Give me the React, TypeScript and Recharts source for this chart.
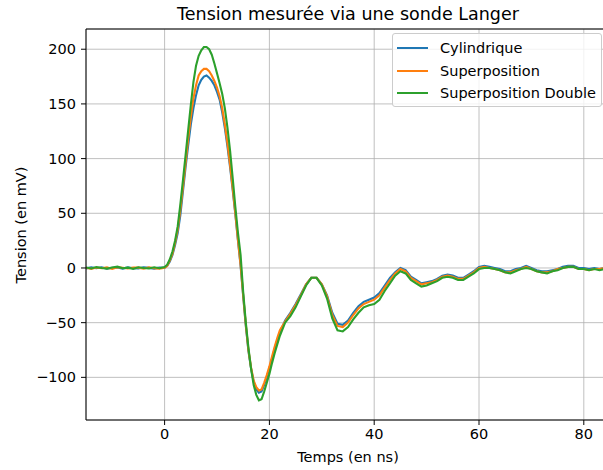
import React from 'react';
import { LineChart, Line, XAxis, YAxis, CartesianGrid, Legend, ReferenceLine } from 'recharts';

const times = [
  -15, -14, -13, -12, -11, -10, -9, -8, -7, -6, -5, -4, -3, -2, -1, 0,
  0.5, 1, 1.5, 2, 2.5, 3, 3.5, 4, 4.5, 5, 5.5, 6, 6.5, 7, 7.5, 8, 8.5, 9, 9.5, 10,
  10.5, 11, 11.5, 12, 12.5, 13, 13.5, 14, 14.5, 15, 15.5, 16, 16.5, 17, 17.5, 18, 18.5, 19, 19.5, 20,
  20.5, 21, 21.5, 22,
  23, 24, 25, 26, 27, 28, 29, 30, 31, 32, 33, 34, 35, 36, 37, 38, 39, 40, 41, 42,
  43, 44, 45, 46, 47, 48, 49, 50, 51, 52, 53, 54, 55, 56, 57, 58, 59, 60, 61, 62,
  63, 64, 65, 66, 67, 68, 69, 70, 71, 72, 73, 74, 75, 76, 77, 78, 79, 80, 81, 82,
  83, 84, 85,
];

const cylindrique = [
  -0.4, 0.5, -0.2, 0.6, -0.7, 0.2, 0.4, -0.6, 0.5, -0.2, -0.5, 0.7, 0.1, -0.6, 0.3, 0.2,
  2, 6, 12, 21, 32, 48, 70, 92, 112, 131, 146, 158, 167, 172, 175, 176, 174, 171, 167, 161,
  154, 142, 128, 111, 92, 71, 49, 25, 2, -26, -53, -76, -92, -104, -111, -114, -113, -107, -100, -92,
  -83, -74, -66, -59,
  -48, -41, -33, -24, -15, -9, -9, -15, -25, -41, -51, -52, -48, -41, -35, -31, -29, -27, -23, -16,
  -9, -4, 0, -2, -8, -11, -14, -13, -12, -10, -7, -6, -7, -9, -9, -6, -3, 1, 2, 1,
  0, -1, -3, -3, -1, 0, 2, 0, -2, -3, -3, -2, -1, 1, 2, 2, 0, 0, -1, 0,
  -1, 0, -1,
];

const superposition = [
  0.2, -0.8, 0.4, -0.3, 0.5, -0.9, 0.6, 0.2, -0.5, 0.4, 0.3, -0.7, 0.6, -0.2, -0.6, 0.1,
  2, 7, 13, 23, 35, 53, 74, 96, 118, 138, 155, 167, 176, 180, 182, 182, 180, 176, 171, 165,
  157, 146, 131, 114, 94, 73, 50, 26, 3, -25, -52, -75, -91, -103, -109, -112, -111, -105, -98, -90,
  -81, -72, -64, -57,
  -49, -42, -34, -25, -15, -9, -9, -15, -26, -43, -53, -54, -50, -43, -37, -33, -31, -29, -25, -18,
  -11, -5, -1, -3, -9, -12, -15, -14, -13, -11, -8, -7, -8, -10, -10, -7, -4, 0, 1, 0,
  -1, -2, -4, -4, -2, -1, 1, -1, -3, -4, -4, -3, -1, 0, 1, 1, -1, -1, -2, -1,
  -1, 0, -1,
];

const superpositionDouble = [
  0.5, -0.5, 0.8, 0, -0.6, 0.4, 1.2, -0.3, 0.3, -0.8, 0.6, 0, -0.4, 0.7, -0.2, 0.8,
  3, 8, 15, 25, 38, 58, 80, 103, 126, 149, 170, 185, 194, 199, 202, 202, 200, 195, 187, 178,
  169, 159, 146, 128, 107, 82, 56, 32, 12, -22, -50, -73, -92, -107, -116, -121, -120, -113, -105, -97,
  -87, -78, -70, -62,
  -50, -44, -36, -26, -16, -9, -9, -16, -28, -46, -57, -58, -54, -47, -41, -36, -34, -33, -29, -21,
  -14, -7, -3, -5, -11, -14, -17, -16, -14, -12, -9, -8, -9, -11, -11, -8, -5, -1, 0, 0,
  -1, -2, -4, -5, -3, -1, 0, -1, -3, -4, -5, -3, -2, 0, 1, 1, -1, -1, -2, -1,
  -2, -1, -2,
];

const seriesNames = ['Cylindrique', 'Superposition', 'Superposition Double'];
const seriesColors = ['#1f77b4', '#ff7f0e', '#2ca02c'];
const xTicks = [0, 20, 40, 60, 80];
const yTicks = [-100, -50, 0, 50, 100, 150, 200];

const data = times.map((t, i) => ({
  t,
  cyl: cylindrique[i],
  sup: superposition[i],
  dbl: superpositionDouble[i],
}));

const FONT = '"DejaVu Sans", sans-serif';
const FS = 14.5;
const fmt = (v: number) => String(v).replace('-', '\u2212');

const renderLegend = (props: any) => {
  const payload = props.payload || [];
  return (
    <div
      style={{
        position: 'absolute',
        left: 392,
        top: 33,
        width: 210,
        height: 74,
        border: '1px solid #cccccc',
        borderRadius: 3,
        background: 'rgba(255,255,255,0.8)',
        boxSizing: 'border-box',
        fontFamily: FONT,
      }}
    >
      {payload.map((p: any, i: number) => (
        <div
          key={i}
          style={{
            position: 'absolute',
            left: 4,
            top: 6 + i * 22.5,
            height: 16,
            display: 'flex',
            alignItems: 'center',
            whiteSpace: 'nowrap',
          }}
        >
          <div style={{ width: 31, height: 2, background: p.color }} />
          <span style={{ marginLeft: 12, fontSize: FS, color: '#000', lineHeight: '16px' }}>{p.value}</span>
        </div>
      ))}
    </div>
  );
};

export default function App() {
  return (
    <div
      style={{
        position: 'fixed',
        left: 0,
        top: 0,
        width: 603,
        height: 470,
        overflow: 'hidden',
        background: '#fff',
        fontFamily: FONT,
      }}
    >
      <div
        style={{
          position: 'absolute',
          left: 148,
          top: 4,
          width: 400,
          textAlign: 'center',
          fontSize: 17.5,
          lineHeight: '20px',
          color: '#000',
          whiteSpace: 'nowrap',
        }}
      >
        Tension mesurée via une sonde Langer
      </div>
      <LineChart
        width={620}
        height={470}
        data={data}
        margin={{ top: 29, right: 10, left: 0, bottom: 0 }}
      >
        <CartesianGrid stroke="#b0b0b0" strokeWidth={0.8} />
        <XAxis
          dataKey="t"
          type="number"
          domain={[-15, 85]}
          ticks={xTicks}
          allowDataOverflow
          height={50}
          tickSize={5}
          tickMargin={4}
          tickFormatter={fmt}
          tick={{ fill: '#000', fontSize: FS, fontFamily: FONT }}
          axisLine={{ stroke: '#000', strokeWidth: 1 }}
          tickLine={{ stroke: '#000', strokeWidth: 1 }}
        />
        <YAxis
          type="number"
          domain={[-139, 218.5]}
          ticks={yTicks}
          allowDataOverflow
          width={86}
          tickSize={5}
          tickMargin={5}
          tickFormatter={fmt}
          tick={{ fill: '#000', fontSize: FS, fontFamily: FONT }}
          axisLine={{ stroke: '#000', strokeWidth: 1 }}
          tickLine={{ stroke: '#000', strokeWidth: 1 }}
        />
        <ReferenceLine y={218.5} stroke="#000" strokeWidth={1} />
        <Line
          type="linear"
          dataKey="cyl"
          name={seriesNames[0]}
          stroke={seriesColors[0]}
          strokeWidth={2.1}
          dot={false}
          isAnimationActive={false}
        />
        <Line
          type="linear"
          dataKey="sup"
          name={seriesNames[1]}
          stroke={seriesColors[1]}
          strokeWidth={2.1}
          dot={false}
          isAnimationActive={false}
        />
        <Line
          type="linear"
          dataKey="dbl"
          name={seriesNames[2]}
          stroke={seriesColors[2]}
          strokeWidth={2.1}
          dot={false}
          isAnimationActive={false}
        />
        <Legend content={renderLegend} wrapperStyle={{ left: 0, top: 0, width: 0, height: 0 }} />
      </LineChart>
      <div
        style={{
          position: 'absolute',
          left: 248,
          top: 447,
          width: 200,
          textAlign: 'center',
          fontSize: FS,
          lineHeight: '20px',
          color: '#000',
        }}
      >
        Temps (en ns)
      </div>
      <div
        style={{
          position: 'absolute',
          left: 21 - 100,
          top: 224.5 - 10,
          width: 200,
          height: 20,
          textAlign: 'center',
          fontSize: FS,
          lineHeight: '20px',
          color: '#000',
          transform: 'rotate(-90deg)',
        }}
      >
        Tension (en mV)
      </div>
    </div>
  );
}
